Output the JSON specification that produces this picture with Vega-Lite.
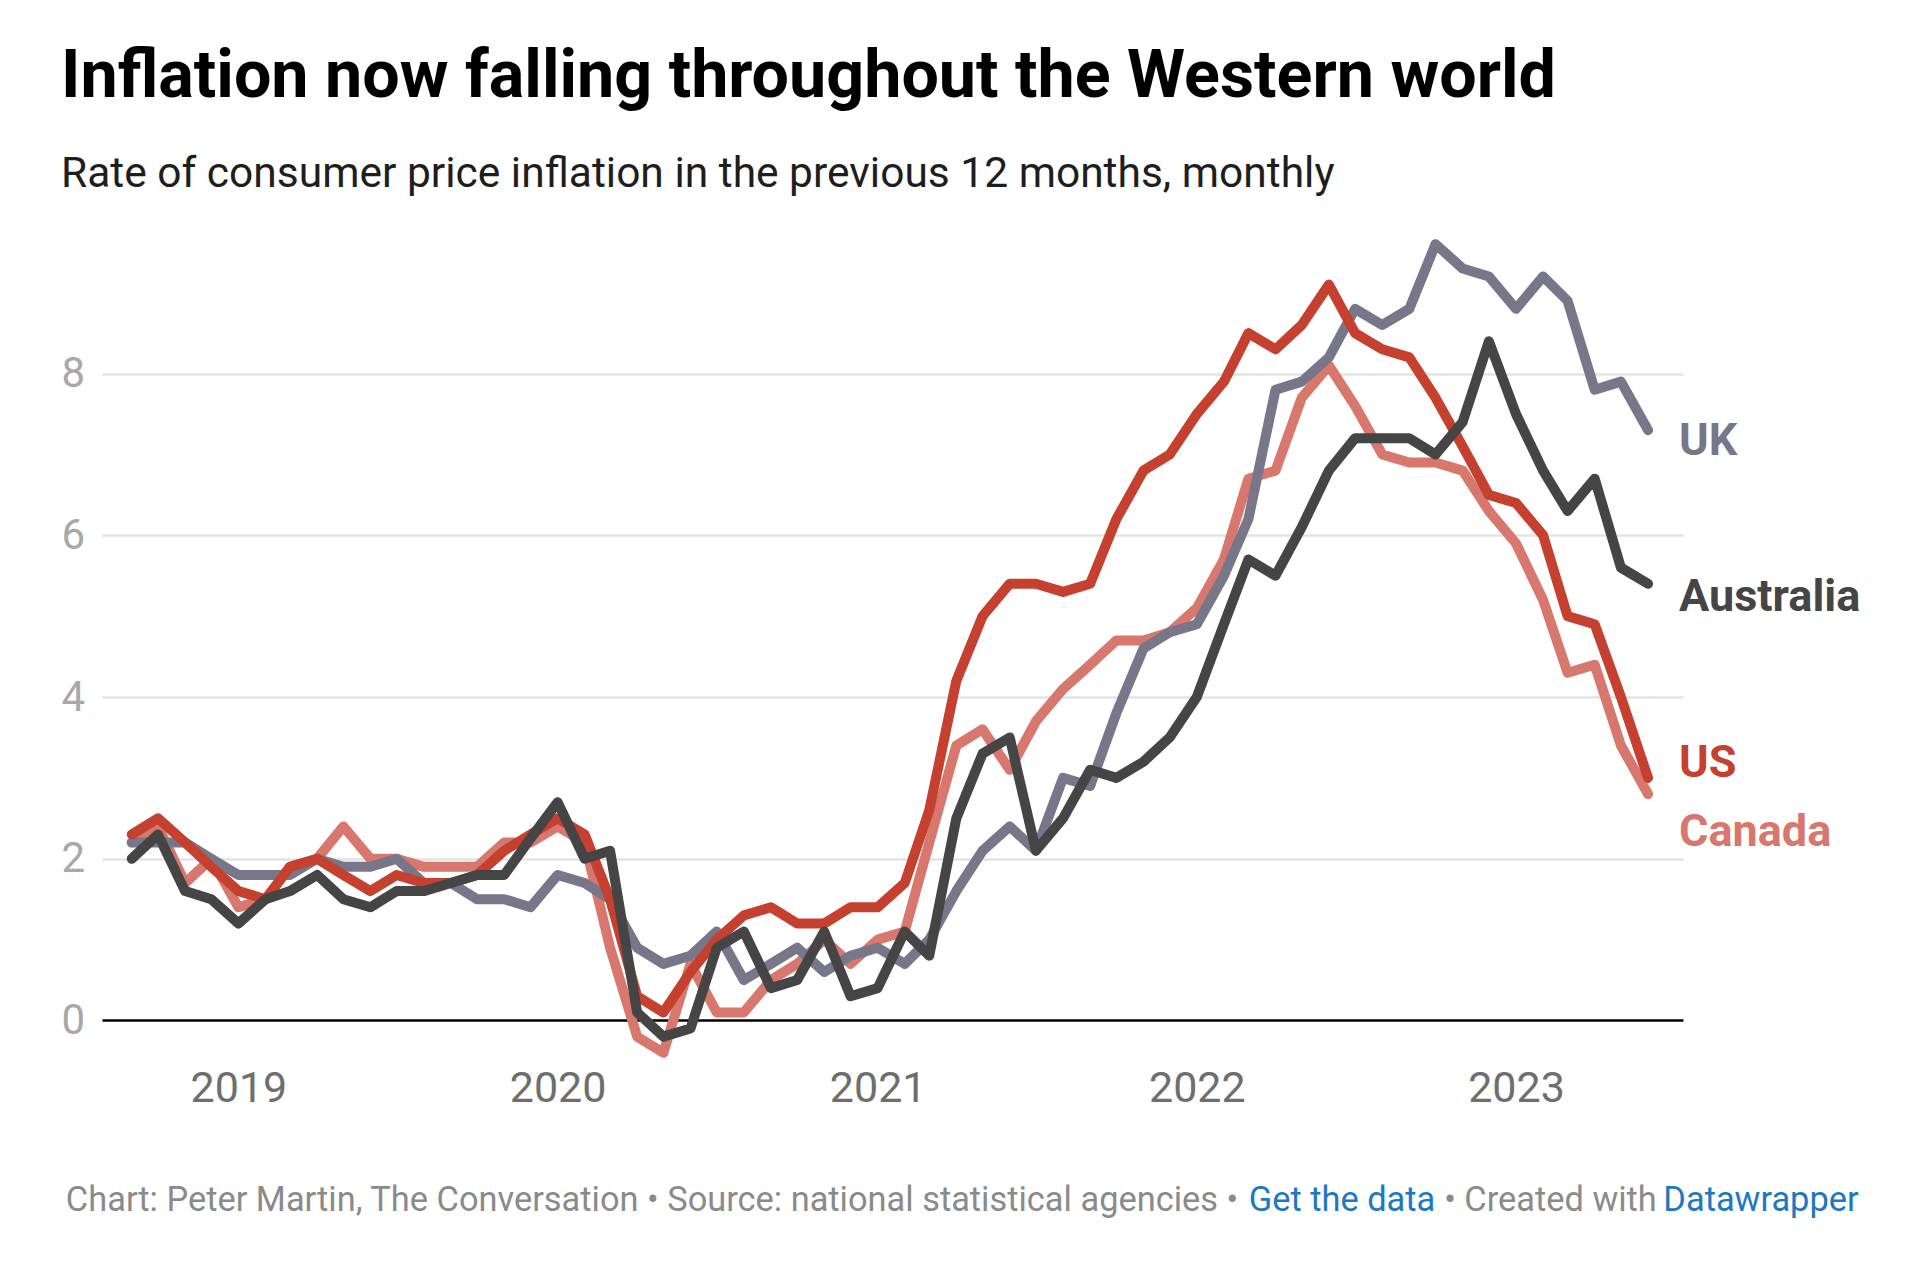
{
  "$schema": "https://vega.github.io/schema/vega-lite/v6.json",
  "background": "white",
  "padding": {"left": 61, "top": 44, "right": 0, "bottom": 0},
  "config": {
    "view": {"stroke": null},
    "font": "Roboto",
    "axis": {"labelFont": "Roboto"}
  },
  "title": {
    "text": "Inflation now falling throughout the Western world",
    "subtitle": "Rate of consumer price inflation in the previous 12 months, monthly",
    "anchor": "start",
    "frame": "bounds",
    "font": "Roboto",
    "fontSize": 66.4,
    "fontWeight": "bold",
    "color": "#000000",
    "subtitleFont": "Roboto",
    "subtitleFontSize": 42.5,
    "subtitleFontWeight": "normal",
    "subtitleColor": "#1e1e1e",
    "subtitlePadding": 41.5,
    "offset": 31.5
  },
  "datasets": {
    "cpi": [
      {"date": "2018-09", "country": "US", "value": 2.3}, {"date": "2018-10", "country": "US", "value": 2.5}, {"date": "2018-11", "country": "US", "value": 2.2}, {"date": "2018-12", "country": "US", "value": 1.9},
      {"date": "2019-01", "country": "US", "value": 1.6}, {"date": "2019-02", "country": "US", "value": 1.5}, {"date": "2019-03", "country": "US", "value": 1.9}, {"date": "2019-04", "country": "US", "value": 2.0},
      {"date": "2019-05", "country": "US", "value": 1.8}, {"date": "2019-06", "country": "US", "value": 1.6}, {"date": "2019-07", "country": "US", "value": 1.8}, {"date": "2019-08", "country": "US", "value": 1.7},
      {"date": "2019-09", "country": "US", "value": 1.7}, {"date": "2019-10", "country": "US", "value": 1.8}, {"date": "2019-11", "country": "US", "value": 2.1}, {"date": "2019-12", "country": "US", "value": 2.3},
      {"date": "2020-01", "country": "US", "value": 2.5}, {"date": "2020-02", "country": "US", "value": 2.3}, {"date": "2020-03", "country": "US", "value": 1.5}, {"date": "2020-04", "country": "US", "value": 0.3},
      {"date": "2020-05", "country": "US", "value": 0.1}, {"date": "2020-06", "country": "US", "value": 0.6}, {"date": "2020-07", "country": "US", "value": 1.0}, {"date": "2020-08", "country": "US", "value": 1.3},
      {"date": "2020-09", "country": "US", "value": 1.4}, {"date": "2020-10", "country": "US", "value": 1.2}, {"date": "2020-11", "country": "US", "value": 1.2}, {"date": "2020-12", "country": "US", "value": 1.4},
      {"date": "2021-01", "country": "US", "value": 1.4}, {"date": "2021-02", "country": "US", "value": 1.7}, {"date": "2021-03", "country": "US", "value": 2.6}, {"date": "2021-04", "country": "US", "value": 4.2},
      {"date": "2021-05", "country": "US", "value": 5.0}, {"date": "2021-06", "country": "US", "value": 5.4}, {"date": "2021-07", "country": "US", "value": 5.4}, {"date": "2021-08", "country": "US", "value": 5.3},
      {"date": "2021-09", "country": "US", "value": 5.4}, {"date": "2021-10", "country": "US", "value": 6.2}, {"date": "2021-11", "country": "US", "value": 6.8}, {"date": "2021-12", "country": "US", "value": 7.0},
      {"date": "2022-01", "country": "US", "value": 7.5}, {"date": "2022-02", "country": "US", "value": 7.9}, {"date": "2022-03", "country": "US", "value": 8.5}, {"date": "2022-04", "country": "US", "value": 8.3},
      {"date": "2022-05", "country": "US", "value": 8.6}, {"date": "2022-06", "country": "US", "value": 9.1}, {"date": "2022-07", "country": "US", "value": 8.5}, {"date": "2022-08", "country": "US", "value": 8.3},
      {"date": "2022-09", "country": "US", "value": 8.2}, {"date": "2022-10", "country": "US", "value": 7.7}, {"date": "2022-11", "country": "US", "value": 7.1}, {"date": "2022-12", "country": "US", "value": 6.5},
      {"date": "2023-01", "country": "US", "value": 6.4}, {"date": "2023-02", "country": "US", "value": 6.0}, {"date": "2023-03", "country": "US", "value": 5.0}, {"date": "2023-04", "country": "US", "value": 4.9},
      {"date": "2023-05", "country": "US", "value": 4.0}, {"date": "2023-06", "country": "US", "value": 3.0},

      {"date": "2018-09", "country": "Canada", "value": 2.2}, {"date": "2018-10", "country": "Canada", "value": 2.4}, {"date": "2018-11", "country": "Canada", "value": 1.7}, {"date": "2018-12", "country": "Canada", "value": 2.0},
      {"date": "2019-01", "country": "Canada", "value": 1.4}, {"date": "2019-02", "country": "Canada", "value": 1.5}, {"date": "2019-03", "country": "Canada", "value": 1.9}, {"date": "2019-04", "country": "Canada", "value": 2.0},
      {"date": "2019-05", "country": "Canada", "value": 2.4}, {"date": "2019-06", "country": "Canada", "value": 2.0}, {"date": "2019-07", "country": "Canada", "value": 2.0}, {"date": "2019-08", "country": "Canada", "value": 1.9},
      {"date": "2019-09", "country": "Canada", "value": 1.9}, {"date": "2019-10", "country": "Canada", "value": 1.9}, {"date": "2019-11", "country": "Canada", "value": 2.2}, {"date": "2019-12", "country": "Canada", "value": 2.2},
      {"date": "2020-01", "country": "Canada", "value": 2.4}, {"date": "2020-02", "country": "Canada", "value": 2.2}, {"date": "2020-03", "country": "Canada", "value": 0.9}, {"date": "2020-04", "country": "Canada", "value": -0.2},
      {"date": "2020-05", "country": "Canada", "value": -0.4}, {"date": "2020-06", "country": "Canada", "value": 0.7}, {"date": "2020-07", "country": "Canada", "value": 0.1}, {"date": "2020-08", "country": "Canada", "value": 0.1},
      {"date": "2020-09", "country": "Canada", "value": 0.5}, {"date": "2020-10", "country": "Canada", "value": 0.7}, {"date": "2020-11", "country": "Canada", "value": 1.0}, {"date": "2020-12", "country": "Canada", "value": 0.7},
      {"date": "2021-01", "country": "Canada", "value": 1.0}, {"date": "2021-02", "country": "Canada", "value": 1.1}, {"date": "2021-03", "country": "Canada", "value": 2.2}, {"date": "2021-04", "country": "Canada", "value": 3.4},
      {"date": "2021-05", "country": "Canada", "value": 3.6}, {"date": "2021-06", "country": "Canada", "value": 3.1}, {"date": "2021-07", "country": "Canada", "value": 3.7}, {"date": "2021-08", "country": "Canada", "value": 4.1},
      {"date": "2021-09", "country": "Canada", "value": 4.4}, {"date": "2021-10", "country": "Canada", "value": 4.7}, {"date": "2021-11", "country": "Canada", "value": 4.7}, {"date": "2021-12", "country": "Canada", "value": 4.8},
      {"date": "2022-01", "country": "Canada", "value": 5.1}, {"date": "2022-02", "country": "Canada", "value": 5.7}, {"date": "2022-03", "country": "Canada", "value": 6.7}, {"date": "2022-04", "country": "Canada", "value": 6.8},
      {"date": "2022-05", "country": "Canada", "value": 7.7}, {"date": "2022-06", "country": "Canada", "value": 8.1}, {"date": "2022-07", "country": "Canada", "value": 7.6}, {"date": "2022-08", "country": "Canada", "value": 7.0},
      {"date": "2022-09", "country": "Canada", "value": 6.9}, {"date": "2022-10", "country": "Canada", "value": 6.9}, {"date": "2022-11", "country": "Canada", "value": 6.8}, {"date": "2022-12", "country": "Canada", "value": 6.3},
      {"date": "2023-01", "country": "Canada", "value": 5.9}, {"date": "2023-02", "country": "Canada", "value": 5.2}, {"date": "2023-03", "country": "Canada", "value": 4.3}, {"date": "2023-04", "country": "Canada", "value": 4.4},
      {"date": "2023-05", "country": "Canada", "value": 3.4}, {"date": "2023-06", "country": "Canada", "value": 2.8},

      {"date": "2018-09", "country": "UK", "value": 2.2}, {"date": "2018-10", "country": "UK", "value": 2.2}, {"date": "2018-11", "country": "UK", "value": 2.2}, {"date": "2018-12", "country": "UK", "value": 2.0},
      {"date": "2019-01", "country": "UK", "value": 1.8}, {"date": "2019-02", "country": "UK", "value": 1.8}, {"date": "2019-03", "country": "UK", "value": 1.8}, {"date": "2019-04", "country": "UK", "value": 2.0},
      {"date": "2019-05", "country": "UK", "value": 1.9}, {"date": "2019-06", "country": "UK", "value": 1.9}, {"date": "2019-07", "country": "UK", "value": 2.0}, {"date": "2019-08", "country": "UK", "value": 1.7},
      {"date": "2019-09", "country": "UK", "value": 1.7}, {"date": "2019-10", "country": "UK", "value": 1.5}, {"date": "2019-11", "country": "UK", "value": 1.5}, {"date": "2019-12", "country": "UK", "value": 1.4},
      {"date": "2020-01", "country": "UK", "value": 1.8}, {"date": "2020-02", "country": "UK", "value": 1.7}, {"date": "2020-03", "country": "UK", "value": 1.5}, {"date": "2020-04", "country": "UK", "value": 0.9},
      {"date": "2020-05", "country": "UK", "value": 0.7}, {"date": "2020-06", "country": "UK", "value": 0.8}, {"date": "2020-07", "country": "UK", "value": 1.1}, {"date": "2020-08", "country": "UK", "value": 0.5},
      {"date": "2020-09", "country": "UK", "value": 0.7}, {"date": "2020-10", "country": "UK", "value": 0.9}, {"date": "2020-11", "country": "UK", "value": 0.6}, {"date": "2020-12", "country": "UK", "value": 0.8},
      {"date": "2021-01", "country": "UK", "value": 0.9}, {"date": "2021-02", "country": "UK", "value": 0.7}, {"date": "2021-03", "country": "UK", "value": 1.0}, {"date": "2021-04", "country": "UK", "value": 1.6},
      {"date": "2021-05", "country": "UK", "value": 2.1}, {"date": "2021-06", "country": "UK", "value": 2.4}, {"date": "2021-07", "country": "UK", "value": 2.1}, {"date": "2021-08", "country": "UK", "value": 3.0},
      {"date": "2021-09", "country": "UK", "value": 2.9}, {"date": "2021-10", "country": "UK", "value": 3.8}, {"date": "2021-11", "country": "UK", "value": 4.6}, {"date": "2021-12", "country": "UK", "value": 4.8},
      {"date": "2022-01", "country": "UK", "value": 4.9}, {"date": "2022-02", "country": "UK", "value": 5.5}, {"date": "2022-03", "country": "UK", "value": 6.2}, {"date": "2022-04", "country": "UK", "value": 7.8},
      {"date": "2022-05", "country": "UK", "value": 7.9}, {"date": "2022-06", "country": "UK", "value": 8.2}, {"date": "2022-07", "country": "UK", "value": 8.8}, {"date": "2022-08", "country": "UK", "value": 8.6},
      {"date": "2022-09", "country": "UK", "value": 8.8}, {"date": "2022-10", "country": "UK", "value": 9.6}, {"date": "2022-11", "country": "UK", "value": 9.3}, {"date": "2022-12", "country": "UK", "value": 9.2},
      {"date": "2023-01", "country": "UK", "value": 8.8}, {"date": "2023-02", "country": "UK", "value": 9.2}, {"date": "2023-03", "country": "UK", "value": 8.9}, {"date": "2023-04", "country": "UK", "value": 7.8},
      {"date": "2023-05", "country": "UK", "value": 7.9}, {"date": "2023-06", "country": "UK", "value": 7.3},

      {"date": "2018-09", "country": "Australia", "value": 2.0}, {"date": "2018-10", "country": "Australia", "value": 2.3}, {"date": "2018-11", "country": "Australia", "value": 1.6}, {"date": "2018-12", "country": "Australia", "value": 1.5},
      {"date": "2019-01", "country": "Australia", "value": 1.2}, {"date": "2019-02", "country": "Australia", "value": 1.5}, {"date": "2019-03", "country": "Australia", "value": 1.6}, {"date": "2019-04", "country": "Australia", "value": 1.8},
      {"date": "2019-05", "country": "Australia", "value": 1.5}, {"date": "2019-06", "country": "Australia", "value": 1.4}, {"date": "2019-07", "country": "Australia", "value": 1.6}, {"date": "2019-08", "country": "Australia", "value": 1.6},
      {"date": "2019-09", "country": "Australia", "value": 1.7}, {"date": "2019-10", "country": "Australia", "value": 1.8}, {"date": "2019-11", "country": "Australia", "value": 1.8}, {"date": "2019-12", "country": "Australia", "value": 2.25},
      {"date": "2020-01", "country": "Australia", "value": 2.7}, {"date": "2020-02", "country": "Australia", "value": 2.0}, {"date": "2020-03", "country": "Australia", "value": 2.1}, {"date": "2020-04", "country": "Australia", "value": 0.1},
      {"date": "2020-05", "country": "Australia", "value": -0.2}, {"date": "2020-06", "country": "Australia", "value": -0.1}, {"date": "2020-07", "country": "Australia", "value": 0.9}, {"date": "2020-08", "country": "Australia", "value": 1.1},
      {"date": "2020-09", "country": "Australia", "value": 0.4}, {"date": "2020-10", "country": "Australia", "value": 0.5}, {"date": "2020-11", "country": "Australia", "value": 1.1}, {"date": "2020-12", "country": "Australia", "value": 0.3},
      {"date": "2021-01", "country": "Australia", "value": 0.4}, {"date": "2021-02", "country": "Australia", "value": 1.1}, {"date": "2021-03", "country": "Australia", "value": 0.8}, {"date": "2021-04", "country": "Australia", "value": 2.5},
      {"date": "2021-05", "country": "Australia", "value": 3.3}, {"date": "2021-06", "country": "Australia", "value": 3.5}, {"date": "2021-07", "country": "Australia", "value": 2.1}, {"date": "2021-08", "country": "Australia", "value": 2.5},
      {"date": "2021-09", "country": "Australia", "value": 3.1}, {"date": "2021-10", "country": "Australia", "value": 3.0}, {"date": "2021-11", "country": "Australia", "value": 3.2}, {"date": "2021-12", "country": "Australia", "value": 3.5},
      {"date": "2022-01", "country": "Australia", "value": 4.0}, {"date": "2022-02", "country": "Australia", "value": 4.9}, {"date": "2022-03", "country": "Australia", "value": 5.7}, {"date": "2022-04", "country": "Australia", "value": 5.5},
      {"date": "2022-05", "country": "Australia", "value": 6.1}, {"date": "2022-06", "country": "Australia", "value": 6.8}, {"date": "2022-07", "country": "Australia", "value": 7.2}, {"date": "2022-08", "country": "Australia", "value": 7.2},
      {"date": "2022-09", "country": "Australia", "value": 7.2}, {"date": "2022-10", "country": "Australia", "value": 7.0}, {"date": "2022-11", "country": "Australia", "value": 7.4}, {"date": "2022-12", "country": "Australia", "value": 8.4},
      {"date": "2023-01", "country": "Australia", "value": 7.5}, {"date": "2023-02", "country": "Australia", "value": 6.8}, {"date": "2023-03", "country": "Australia", "value": 6.3}, {"date": "2023-04", "country": "Australia", "value": 6.7},
      {"date": "2023-05", "country": "Australia", "value": 5.6}, {"date": "2023-06", "country": "Australia", "value": 5.4}
    ]
  },
  "spacing": 71,
  "vconcat": [
    {
      "width": 1581,
      "height": 841,
      "data": {"name": "cpi", "format": {"parse": {"date": "date:'%Y-%m'"}}},
      "encoding": {
        "x": {
          "field": "date",
          "type": "temporal",
          "title": null,
          "scale": {"domain": [{"year": 2018, "month": 7, "date": 29}, {"year": 2023, "month": 7, "date": 11}]},
          "axis": {
            "values": [{"year": 2019, "month": 1, "date": 1}, {"year": 2020, "month": 1, "date": 1}, {"year": 2021, "month": 1, "date": 1}, {"year": 2022, "month": 1, "date": 1}, {"year": 2023, "month": 1, "date": 1}],
            "format": "%Y",
            "labelFontSize": 43,
            "labelColor": "#6e6e6e",
            "labelPadding": -2,
            "ticks": false,
            "domain": false,
            "grid": false
          }
        },
        "y": {
          "field": "value",
          "type": "quantitative",
          "title": null,
          "scale": {"domain": [-0.6, 9.8], "nice": false, "zero": false},
          "axis": {
            "values": [0, 2, 4, 6, 8],
            "labelAlign": "left",
            "labelBaseline": "middle",
            "labelPadding": 41,
            "labelFontSize": 42,
            "labelColor": "#a8a8a8",
            "ticks": false,
            "domain": false,
            "gridColor": {"condition": {"test": "datum.value === 0", "value": "#000000"}, "value": "#e3e3e3"},
            "gridWidth": 2.5
          }
        },
        "color": {
          "field": "country",
          "type": "nominal",
          "scale": {"domain": ["UK", "Australia", "US", "Canada"], "range": ["#787789", "#454545", "#c64030", "#d7776d"]},
          "legend": null
        }
      },
      "layer": [
        {"transform": [{"filter": "datum.country === 'Canada'"}], "mark": {"type": "line", "strokeWidth": 10, "strokeJoin": "round", "strokeCap": "round"}},
        {"transform": [{"filter": "datum.country === 'UK'"}], "mark": {"type": "line", "strokeWidth": 10, "strokeJoin": "round", "strokeCap": "round"}},
        {"transform": [{"filter": "datum.country === 'US'"}], "mark": {"type": "line", "strokeWidth": 10, "strokeJoin": "round", "strokeCap": "round"}},
        {"transform": [{"filter": "datum.country === 'Australia'"}], "mark": {"type": "line", "strokeWidth": 10, "strokeJoin": "round", "strokeCap": "round"}},
        {
          "transform": [{"filter": "datum.country === 'UK' && year(datum.date) === 2023 && month(datum.date) === 5"}],
          "mark": {"type": "text", "align": "left", "baseline": "middle", "dx": 31, "dy": 11, "fontSize": 45, "fontWeight": "bold", "font": "Roboto"},
          "encoding": {"text": {"field": "country"}}
        },
        {
          "transform": [{"filter": "datum.country === 'Australia' && year(datum.date) === 2023 && month(datum.date) === 5"}],
          "mark": {"type": "text", "align": "left", "baseline": "middle", "dx": 31, "dy": 13, "fontSize": 45, "fontWeight": "bold", "font": "Roboto"},
          "encoding": {"text": {"field": "country"}}
        },
        {
          "transform": [{"filter": "datum.country === 'US' && year(datum.date) === 2023 && month(datum.date) === 5"}],
          "mark": {"type": "text", "align": "left", "baseline": "middle", "dx": 31, "dy": -15, "fontSize": 45, "fontWeight": "bold", "font": "Roboto"},
          "encoding": {"text": {"field": "country"}}
        },
        {
          "transform": [{"filter": "datum.country === 'Canada' && year(datum.date) === 2023 && month(datum.date) === 5"}],
          "mark": {"type": "text", "align": "left", "baseline": "middle", "dx": 31, "dy": 38, "fontSize": 45, "fontWeight": "bold", "font": "Roboto"},
          "encoding": {"text": {"field": "country"}}
        }
      ]
    },
    {
      "spacing": 0,
      "bounds": "flush",
      "hconcat": [
        {
          "width": 1100, "height": 40,
          "data": {"values": [{"part": "Chart: Peter Martin, The Conversation • Source: national statistical agencies •"}]},
          "mark": {"type": "text", "fontSize": 34.4, "color": "#8a8a8a", "font": "Roboto"},
          "encoding": {"text": {"field": "part"}}
        },
        {
          "width": 280, "height": 40,
          "data": {"values": [{"part": "Get the data"}]},
          "mark": {"type": "text", "fontSize": 34.4, "color": "#1d78c4", "font": "Roboto"},
          "encoding": {"text": {"field": "part"}}
        },
        {
          "width": 137, "height": 40,
          "data": {"values": [{"part": "• Created with"}]},
          "mark": {"type": "text", "fontSize": 34.4, "color": "#8a8a8a", "font": "Roboto"},
          "encoding": {"text": {"field": "part"}}
        },
        {
          "width": 284, "height": 40,
          "data": {"values": [{"part": "Datawrapper"}]},
          "mark": {"type": "text", "fontSize": 34.4, "color": "#1d78c4", "font": "Roboto"},
          "encoding": {"text": {"field": "part"}}
        }
      ]
    }
  ]
}
